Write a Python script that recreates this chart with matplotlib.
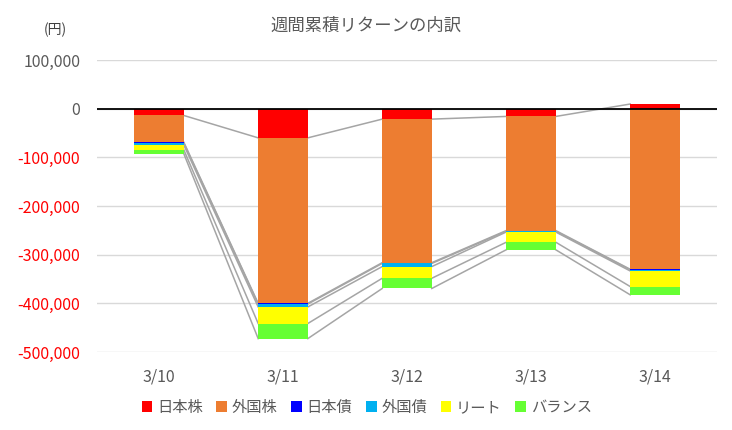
import numpy as np
import matplotlib.pyplot as plt
from matplotlib.ticker import FuncFormatter

plt.rcParams['font.family'] = ['Noto Sans CJK JP', 'DejaVu Sans']

dates = ['3/10', '3/11', '3/12', '3/13', '3/14']
series_names = ['日本株', '外国株', '日本債', '外国債', 'リート', 'バランス']
jp_stock = [-14000, -60000, -21500, -16000, 9500]
fx_stock = [-55000, -340000, -295000, -234500, -330000]
jp_bond = [-1500, -1500, -1500, -1500, -1000]
fx_bond = [-4000, -6000, -6500, -1500, -2500]
reit = [-10000, -34000, -24000, -21000, -32000]
balance = [-8000, -31000, -21000, -15500, -17000]
colors = ['#FF0000', '#ED7D31', '#0000FF', '#00B0F0', '#FFFF00', '#66FF33']

series = [jp_stock, fx_stock, jp_bond, fx_bond, reit, balance]

fig = plt.figure(figsize=(7.32, 4.30), dpi=100)
ax = fig.add_axes([0.1325, 0.1814, 0.847, 0.6791])

x = np.arange(len(dates))
width = 0.4
pos_base = np.zeros(len(dates))
neg_base = np.zeros(len(dates))
ends = []
for vals, name, c in zip(series, series_names, colors):
    vals = np.array(vals, dtype=float)
    bottom = np.where(vals >= 0, pos_base, neg_base)
    ax.bar(x, vals, width, bottom=bottom, color=c, label=name,
           edgecolor='none', zorder=3)
    end = bottom + vals
    ends.append(end)
    pos_base = np.where(vals >= 0, end, pos_base)
    neg_base = np.where(vals < 0, end, neg_base)

# series lines between bars
for end in ends:
    for i in range(len(dates) - 1):
        ax.plot([x[i] + width / 2, x[i + 1] - width / 2], [end[i], end[i + 1]],
                color='#A5A5A5', lw=1.1, zorder=2)

ax.axhline(0, color='black', lw=1.3, zorder=4)
ax.set_xlim(-0.5, len(dates) - 0.5)
ax.set_ylim(-500000, 100000)
ax.set_yticks(np.arange(-500000, 100001, 100000))
ax.yaxis.set_major_formatter(FuncFormatter(lambda v, p: f'{int(v):,}'))
ax.grid(axis='y', color='#D9D9D9', lw=1, zorder=0)
ax.set_xticks(x)
ax.set_xticklabels(dates)
ax.tick_params(axis='both', length=0, labelsize=11.5, colors='#595959')
ax.tick_params(axis='y', pad=12)
ax.tick_params(axis='x', pad=12)
for lab, v in zip(ax.get_yticklabels(), ax.get_yticks()):
    if v < 0:
        lab.set_color('#FF0000')
for s in ax.spines.values():
    s.set_visible(False)

fig.text(0.5, 0.94, '週間累積リターンの内訳', ha='center', va='center',
         fontsize=12.5, color='#595959')
fig.text(0.075, 0.93, '(円)', ha='center', va='center', fontsize=10, color='#404040')

ax.legend(loc='center', bbox_to_anchor=(0.435, -0.19), ncol=6, frameon=False,
          fontsize=11, handlelength=0.7, handleheight=0.7, handletextpad=0.3,
          columnspacing=0.9, labelcolor='#595959')

plt.savefig('out.png', dpi=100)
